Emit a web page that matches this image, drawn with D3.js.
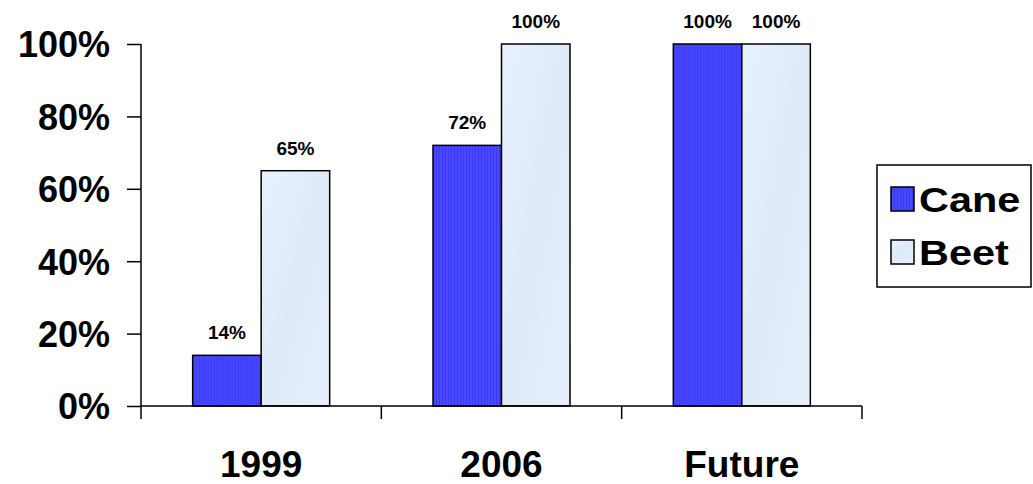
<!DOCTYPE html>
<html>
<head>
<meta charset="utf-8">
<script src="https://cdn.jsdelivr.net/npm/d3@7"></script>
<style>
body { margin: 0; background: #fff; }
text { font-family: "Liberation Sans", Arial, sans-serif; font-weight: bold; fill: #000; }
</style>
</head>
<body>
<div id="chart"></div>
<script>
// data
var years = ["1999", "2006", "Future"];
var series = ["Cane", "Beet"];
var cane = [14, 72, 100];
var beet = [65, 100, 100];
var yTicks = [0, 20, 40, 60, 80, 100];

var W = 1033, H = 484;
var mLeft = 141, mRight = 862, mTop = 44, mBottom = 406;

var svg = d3.select("#chart").append("svg")
	.attr("width", W)
	.attr("height", H);

// fills
var defs = svg.append("defs");
var stripes = defs.append("pattern")
	.attr("id", "caneFill")
	.attr("patternUnits", "userSpaceOnUse")
	.attr("width", 3).attr("height", 3);
stripes.append("rect").attr("width", 3).attr("height", 3).attr("fill", "#4848ff");
stripes.append("rect").attr("width", 1).attr("height", 3).attr("fill", "#3a3af2");

var beetGrad = defs.append("linearGradient")
	.attr("id", "beetFill")
	.attr("x1", 0).attr("y1", 0).attr("x2", 1).attr("y2", 1);
beetGrad.append("stop").attr("offset", "0%").attr("stop-color", "#e8f2fd");
beetGrad.append("stop").attr("offset", "50%").attr("stop-color", "#dfeaf9");
beetGrad.append("stop").attr("offset", "100%").attr("stop-color", "#e6f0fc");

var fills = {"Cane": "url(#caneFill)", "Beet": "url(#beetFill)"};

//scales
var x0 = d3.scaleBand()
	.domain(years)
	.range([mLeft, mRight])
	.paddingInner(0.43)
	.paddingOuter(0.215);

var x1 = d3.scaleBand()
	.domain(series)
	.range([0, x0.bandwidth()]);

var y = d3.scaleLinear()
	.domain([0, 100])
	.range([mBottom, mTop]);

var rows = years.map(function(d, i) {
	return {year: d, values: [{key: "Cane", v: cane[i]}, {key: "Beet", v: beet[i]}]};
});

// bars
var groups = svg.append("g").selectAll("g")
	.data(rows)
	.enter().append("g")
	.attr("transform", function(d) {return "translate(" + x0(d.year) + ",0)";});

groups.selectAll("rect")
	.data(function(d) {return d.values;})
	.enter().append("rect")
	.attr("x", function(d) {return x1(d.key);})
	.attr("y", function(d) {return y(d.v);})
	.attr("width", x1.bandwidth())
	.attr("height", function(d) {return y(0) - y(d.v);})
	.attr("fill", function(d) {return fills[d.key];})
	.attr("stroke", "#000")
	.attr("stroke-width", 1.5);

groups.selectAll(".val")
	.data(function(d) {return d.values;})
	.enter().append("text")
	.attr("class", "val")
	.attr("x", function(d) {return x1(d.key) + x1.bandwidth() / 2;})
	.attr("y", function(d) {return y(d.v) - 16;})
	.attr("text-anchor", "middle")
	.style("font-size", "19px")
	.text(function(d) {return d.v + "%";});

// y axis
var yAxis = svg.append("g")
	.attr("transform", "translate(" + mLeft + ",0)")
	.call(d3.axisLeft(y).tickValues(yTicks).tickSize(14).tickPadding(17)
		.tickFormat(function(d) {return d + "%";}));
yAxis.select(".domain").attr("d", "M0," + mTop + "V" + mBottom).attr("stroke-width", 1.5);
yAxis.selectAll(".tick line").attr("stroke-width", 1.5);
yAxis.selectAll(".tick text")
	.style("font-size", "36px")
	.attr("dy", "0.36em")
	.attr("font-family", null);

// x axis: ticks on category boundaries
var xg = svg.append("g");
xg.append("line")
	.attr("x1", mLeft).attr("x2", mRight)
	.attr("y1", mBottom).attr("y2", mBottom)
	.attr("stroke", "#000").attr("stroke-width", 1.5);

var bounds = years.map(function(d) {return x0(d) - x0.step() * x0.paddingInner() / 2;});
bounds[0] = mLeft;
bounds.push(mRight);
xg.selectAll(".xt")
	.data(bounds)
	.enter().append("line")
	.attr("x1", function(d) {return d;})
	.attr("x2", function(d) {return d;})
	.attr("y1", mBottom)
	.attr("y2", mBottom + 13)
	.attr("stroke", "#000").attr("stroke-width", 1.5);

xg.selectAll(".xl")
	.data(years)
	.enter().append("text")
	.attr("x", function(d) {return x0(d) + x0.bandwidth() / 2;})
	.attr("y", 477)
	.attr("text-anchor", "middle")
	.style("font-size", "37px")
	.text(function(d) {return d;});

// legend
var legend = svg.append("g");
legend.append("rect")
	.attr("x", 877).attr("y", 165)
	.attr("width", 154).attr("height", 122)
	.attr("fill", "#fff")
	.attr("stroke", "#000").attr("stroke-width", 1.5);

var li = legend.selectAll(".li")
	.data(series)
	.enter().append("g")
	.attr("transform", function(d, i) {return "translate(891," + (187 + i * 53) + ")";});
li.append("rect")
	.attr("width", 23).attr("height", 24)
	.attr("fill", function(d) {return fills[d];})
	.attr("stroke", "#000").attr("stroke-width", 1.5);
li.append("text")
	.attr("transform", "translate(28,25) scale(1.15,1)")
	.style("font-size", "36px")
	.text(function(d) {return d;});
</script>
</body>
</html>
